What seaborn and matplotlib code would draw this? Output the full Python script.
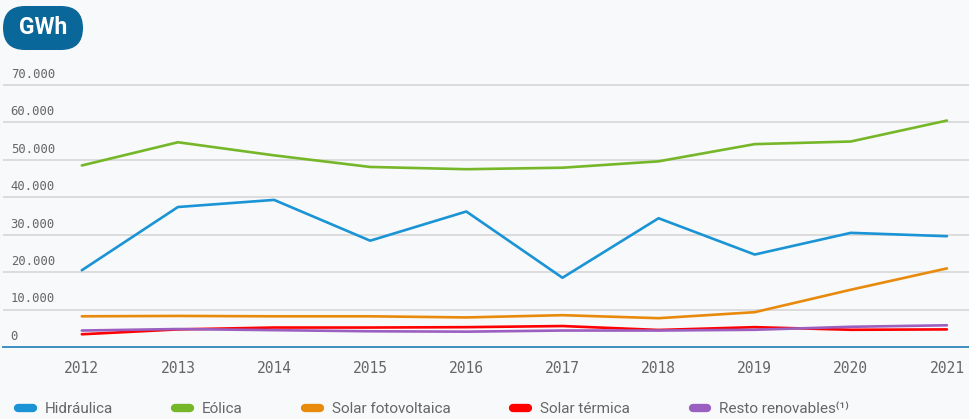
import matplotlib
matplotlib.use('Agg')
import matplotlib.pyplot as plt
import seaborn as sns
import pandas as pd
from matplotlib.lines import Line2D
from matplotlib.patches import FancyBboxPatch
from matplotlib.transforms import IdentityTransform

# Datos (GWh)
years = [2012, 2013, 2014, 2015, 2016, 2017, 2018, 2019, 2020, 2021]
hidraulica = [20500, 37400, 39300, 28400, 36200, 18500, 34400, 24700, 30500, 29600]
eolica = [48500, 54700, 51200, 48100, 47500, 47900, 49600, 54200, 54900, 60500]
solar_fv = [8200, 8300, 8200, 8200, 7900, 8500, 7700, 9300, 15300, 21000]
solar_termica = [3400, 4700, 5200, 5200, 5300, 5600, 4550, 5300, 4600, 4700]
resto = [4400, 4800, 4500, 4200, 4100, 4400, 4400, 4600, 5400, 5800]

series_names = ["Hidráulica", "Eólica", "Solar fotovoltaica", "Solar térmica",
                "Resto renovables"]
legend_labels = ["Hidráulica", "Eólica", "Solar fotovoltaica", "Solar térmica",
                 "Resto renovables⁽¹⁾"]
colors = ["#1a94d4", "#76b729", "#e88a0c", "#ff0000", "#9b5fc0"]
y_ticks = [0, 10000, 20000, 30000, 40000, 50000, 60000, 70000]
y_tick_labels = ["0", "10.000", "20.000", "30.000", "40.000", "50.000",
                 "60.000", "70.000"]

bg = "#f8f9fb"
grey = "#666666"

df = pd.DataFrame({
    "year": years * 5,
    "gwh": hidraulica + eolica + solar_fv + solar_termica + resto,
    "serie": sum([[n] * len(years) for n in series_names], []),
})

sns.set_style("white")
plt.rcParams['font.family'] = ['Roboto', 'DejaVu Sans']

W, H = 970, 419
fig = plt.figure(figsize=(W / 100, H / 100), dpi=100, facecolor=bg)
ax = fig.add_axes([3 / W, (H - 347) / H, (W - 3) / W, (347 - 77.5) / H])
ax.set_facecolor(bg)

sns.lineplot(data=df, x="year", y="gwh", hue="serie", hue_order=series_names,
             palette=dict(zip(series_names, colors)), linewidth=1.9,
             legend=False, ax=ax)

ax.set_xlim(2011.18, 2021.24)
ax.set_ylim(0, 72000)

# rejilla horizontal
for v in y_ticks[1:]:
    ax.axhline(v, color="#d4d4d4", lw=1.1, zorder=0)

for s in ["top", "right", "left"]:
    ax.spines[s].set_visible(False)
ax.spines["bottom"].set_color("#3d8fc0")
ax.spines["bottom"].set_linewidth(1.4)

ax.set_xticks(years)
ax.set_xticklabels([str(y) for y in years])
ax.tick_params(axis="x", length=0, pad=10, labelsize=10.5, labelcolor=grey,
               labelfontfamily="DejaVu Sans Mono")
ax.set_yticks([])
ax.set_xlabel("")
ax.set_ylabel("")

# etiquetas del eje y encima de cada línea
for v, lab in zip(y_ticks, y_tick_labels):
    ax.annotate(lab, xy=(0, v), xycoords=ax.get_yaxis_transform(),
                xytext=(5.5, 3), textcoords="offset points", ha="left",
                va="bottom", family="DejaVu Sans Mono", fontsize=8.8,
                color=grey)

# etiqueta GWh
badge = FancyBboxPatch((3, H - 50), 80, 44,
                       boxstyle="round,pad=0,rounding_size=22",
                       transform=IdentityTransform(), facecolor="#0a6799",
                       edgecolor="none")
fig.patches.append(badge)
fig.text(43 / W, 1 - 28 / H, "GWh", color="white", fontsize=16.5,
         fontweight="bold", ha="center", va="center")

handles = [Line2D([0], [0], color=c, lw=6, solid_capstyle="round")
           for c in colors]
fig.legend(handles, legend_labels, loc="center left",
           bbox_to_anchor=(18 / W, 1 - 409 / H), ncol=5, frameon=False,
           fontsize=11, handlelength=0.96, handletextpad=0.78,
           columnspacing=4.1, borderpad=0, borderaxespad=0,
           labelcolor=grey)

fig.savefig("out.png", dpi=100, facecolor=bg)
